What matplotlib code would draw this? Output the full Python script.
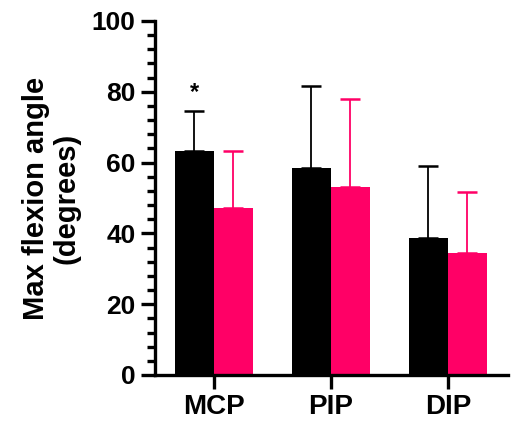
import numpy as np
import matplotlib
matplotlib.use("Agg")
import matplotlib.pyplot as plt
from matplotlib.ticker import MultipleLocator

plt.rcParams['font.family'] = ['Liberation Sans', 'DejaVu Sans']

joints = ["MCP", "PIP", "DIP"]
group_a_mean = [63.3, 58.4, 38.6]
group_a_sd = [11.3, 23.3, 20.5]
group_b_mean = [47.3, 53.2, 34.6]
group_b_sd = [16.0, 24.7, 17.1]

BLACK = "#000000"
PINK = "#ff0066"

fig = plt.figure(figsize=(5.12, 4.22), dpi=100)
ax = fig.add_axes([155 / 512, 1 - 375 / 422, (508 - 155) / 512, (375 - 21) / 422])

x = np.arange(len(joints))
w = 1 / 3
ax.bar(x - w / 2, group_a_mean, w, color=BLACK, zorder=2)
ax.bar(x + w / 2, group_b_mean, w, color=PINK, zorder=2)
ax.errorbar(x - w / 2, group_a_mean, yerr=[np.zeros(3), group_a_sd], fmt="none",
            ecolor=BLACK, elinewidth=1.3, capsize=7.5, capthick=1.8, zorder=1)
ax.errorbar(x + w / 2, group_b_mean, yerr=[np.zeros(3), group_b_sd], fmt="none",
            ecolor=PINK, elinewidth=1.3, capsize=7.5, capthick=1.8, zorder=1)

# significance marker over MCP
ax.text(x[0] - w / 2, group_a_mean[0] + group_a_sd[0] + 2.0, "*", ha="center",
        va="bottom", fontsize=17, fontweight="bold")

ax.set_xlim(-0.504, 2.513)
ax.set_ylim(0, 100)
ax.set_xticks(x)
ax.set_xticklabels(joints, fontsize=20, fontweight="bold")
ax.yaxis.set_major_locator(MultipleLocator(20))
ax.yaxis.set_minor_locator(MultipleLocator(4))
for lab in ax.get_yticklabels():
    lab.set_fontsize(19)
    lab.set_fontweight("bold")
ax.set_ylabel("Max flexion angle\n(degrees)", fontsize=21, fontweight="bold",
              linespacing=1.15)
ax.yaxis.set_label_coords(-0.21, 0.5)

for s in ["top", "right"]:
    ax.spines[s].set_visible(False)
for s in ["left", "bottom"]:
    ax.spines[s].set_linewidth(2.4)
ax.tick_params(axis="both", which="major", length=10, width=2.4, pad=4)
ax.tick_params(axis="y", which="minor", length=5.5, width=2.4)

fig.savefig("out.png", dpi=100)
